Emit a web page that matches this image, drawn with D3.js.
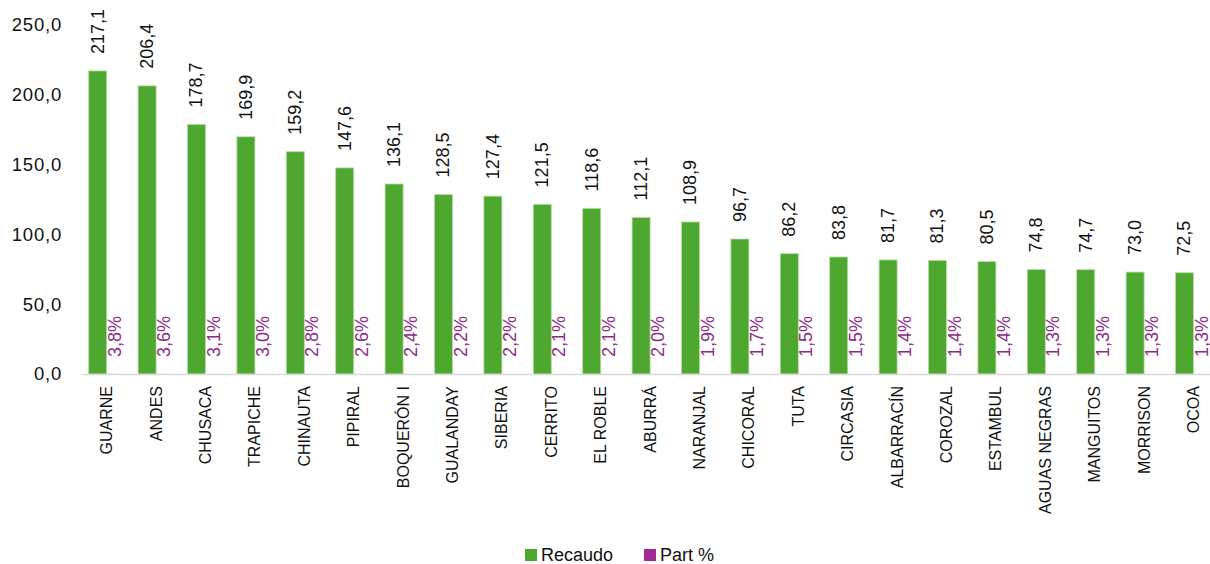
<!DOCTYPE html>
<html>
<head>
<meta charset="utf-8">
<script src="https://cdn.jsdelivr.net/npm/d3@7"></script>
<style>
  body { margin: 0; background: #fff; }
  text { font-family: "Liberation Sans", Arial, sans-serif; }
</style>
</head>
<body>
<svg id="chart"></svg>
<script>
// Data
const categories = ["GUARNE", "ANDES", "CHUSACA", "TRAPICHE", "CHINAUTA", "PIPIRAL", "BOQUERÓN I",
  "GUALANDAY", "SIBERIA", "CERRITO", "EL ROBLE", "ABURRÁ", "NARANJAL", "CHICORAL", "TUTA",
  "CIRCASIA", "ALBARRACÍN", "COROZAL", "ESTAMBUL", "AGUAS NEGRAS", "MANGUITOS", "MORRISON", "OCOA"];
const recaudo = [217.1, 206.4, 178.7, 169.9, 159.2, 147.6, 136.1, 128.5, 127.4, 121.5, 118.6, 112.1,
  108.9, 96.7, 86.2, 83.8, 81.7, 81.3, 80.5, 74.8, 74.7, 73.0, 72.5];
const partPct = [3.8, 3.6, 3.1, 3.0, 2.8, 2.6, 2.4, 2.2, 2.2, 2.1, 2.1, 2.0,
  1.9, 1.7, 1.5, 1.5, 1.4, 1.4, 1.4, 1.3, 1.3, 1.3, 1.3];
const yTicks = [0, 50, 100, 150, 200, 250];
const seriesNames = ["Recaudo", "Part %"];

const colors = {"Recaudo": "#4EA72E", "Part %": "#A02B93"};

const width = 1210, height = 564;

const svg = d3.select("#chart")
  .attr("width", width)
  .attr("height", height);

const locale = d3.formatLocale({decimal: ",", thousands: ".", grouping: [3], currency: ["$", ""]});
const fmt1 = locale.format(".1f");

const data = categories.map((c, i) => ({cat: c, recaudo: recaudo[i], part: partPct[i]}));

// Scales
const x = d3.scaleBand()
  .domain(categories)
  .range([82, 82 + 49.4 * categories.length])
  .padding(0);

const xs = d3.scaleBand()
  .domain(seriesNames)
  .range([0, x.bandwidth()])
  .paddingInner(0)
  .paddingOuter(0.372);

const y = d3.scaleLinear()
  .domain([0, 250])
  .range([374, 25]);

// Y axis (labels only)
const yAxis = d3.axisLeft(y)
  .tickValues(yTicks)
  .tickFormat(fmt1)
  .tickSize(0)
  .tickPadding(0);

svg.append("g")
  .attr("class", "y axis")
  .attr("transform", "translate(62, 0)")
  .call(yAxis)
  .call(g => g.select(".domain").remove())
  .call(g => g.selectAll("text")
    .attr("fill", "#111")
    .style("font-size", "18.5px")
    .style("letter-spacing", "0.8px")
    .style("font-family", "'Liberation Sans', Arial, sans-serif"));

// Bars - Recaudo
svg.append("g")
  .selectAll("rect")
  .data(data)
  .enter().append("rect")
    .attr("x", d => x(d.cat) + xs("Recaudo"))
    .attr("y", d => y(d.recaudo))
    .attr("width", xs.bandwidth())
    .attr("height", d => y(0) - y(d.recaudo))
    .attr("fill", colors["Recaudo"])
    .attr("stroke", "#b5dca5")
    .attr("stroke-width", 0.8);

// Bars - Part % (fraction on the same axis, so practically flat)
svg.append("g")
  .selectAll("rect")
  .data(data)
  .enter().append("rect")
    .attr("x", d => x(d.cat) + xs("Part %"))
    .attr("y", d => y(d.part / 100))
    .attr("width", xs.bandwidth())
    .attr("height", d => y(0) - y(d.part / 100))
    .attr("fill", colors["Part %"]);

// X axis line
svg.append("line")
  .attr("x1", 82)
  .attr("x2", width)
  .attr("y1", y(0) + 0.5)
  .attr("y2", y(0) + 0.5)
  .attr("stroke", "#d9d9d9")
  .attr("stroke-width", 1.6);

// Category labels
svg.append("g")
  .selectAll("text")
  .data(data)
  .enter().append("text")
    .attr("transform", d => `translate(${x(d.cat) + x.bandwidth() / 2}, 386) rotate(-90)`)
    .attr("text-anchor", "end")
    .attr("dominant-baseline", "central")
    .attr("fill", "#111")
    .style("font-size", "16px")
    .text(d => d.cat);

// Value labels (Recaudo)
svg.append("g")
  .selectAll("text")
  .data(data)
  .enter().append("text")
    .attr("transform", d => `translate(${x(d.cat) + xs("Recaudo") + xs.bandwidth() / 2}, ${y(d.recaudo) - 17}) rotate(-90)`)
    .attr("text-anchor", "start")
    .attr("dominant-baseline", "central")
    .attr("fill", "#111")
    .style("font-size", "18px")
    .text(d => fmt1(d.recaudo));

// Value labels (Part %)
svg.append("g")
  .selectAll("text")
  .data(data)
  .enter().append("text")
    .attr("transform", d => `translate(${x(d.cat) + xs("Part %") + xs.bandwidth() / 2 - 1}, ${y(d.part / 100) - 17}) rotate(-90)`)
    .attr("text-anchor", "start")
    .attr("dominant-baseline", "central")
    .attr("fill", "#8E2A87")
    .style("font-size", "18px")
    .text(d => fmt1(d.part) + "%");

// Legend
const legend = svg.append("g")
  .attr("class", "legend")
  .attr("transform", "translate(525, 549)");

const legendX = [0, 119];
legend.selectAll("rect")
  .data(seriesNames)
  .enter().append("rect")
    .attr("x", (d, i) => legendX[i])
    .attr("y", 0)
    .attr("width", 12)
    .attr("height", 12)
    .attr("fill", d => colors[d]);

legend.selectAll("text")
  .data(seriesNames)
  .enter().append("text")
    .attr("x", (d, i) => legendX[i] + 16)
    .attr("y", 12)
    .attr("fill", "#111")
    .style("font-size", "18px")
    .text(d => d);
</script>
</body>
</html>
